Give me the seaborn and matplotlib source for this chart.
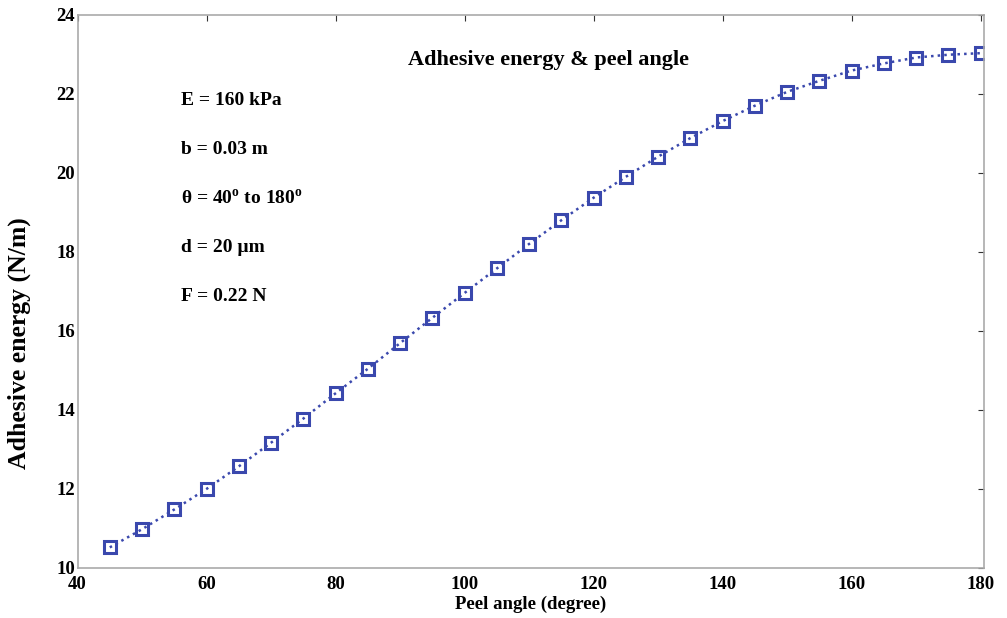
import numpy as np
import pandas as pd
import matplotlib
matplotlib.use("Agg")
import matplotlib.pyplot as plt
import seaborn as sns

# dados
peel_angle = [45, 50, 55, 60, 65, 70, 75, 80, 85, 90, 95, 100, 105, 110,
              115, 120, 125, 130, 135, 140, 145, 150, 155, 160, 165, 170, 175, 180]
adhesive_energy = [10.52, 10.98, 11.48, 12.00, 12.57, 13.17, 13.78, 14.42, 15.04,
                   15.69, 16.33, 16.96, 17.58, 18.20, 18.80, 19.37, 19.90, 20.41,
                   20.88, 21.31, 21.70, 22.05, 22.33, 22.59, 22.77, 22.92, 22.99, 23.03]
param_lines = ["E = 160 kPa", "b = 0.03 m", "θ = 40$^{\\rm o}$ to 180$^{\\rm o}$",
               "d = 20 µm", "F = 0.22 N"]

df = pd.DataFrame({"angle": peel_angle, "energy": adhesive_energy})

sns.set_theme(style="white")
plt.rcParams["font.family"] = ["Liberation Serif", "DejaVu Serif"]
plt.rcParams["mathtext.fontset"] = "custom"
plt.rcParams["mathtext.rm"] = "Liberation Serif:bold"
plt.rcParams["text.color"] = "black"
plt.rcParams["axes.labelcolor"] = "black"
plt.rcParams["xtick.labelcolor"] = "black"
plt.rcParams["ytick.labelcolor"] = "black"

fig, ax = plt.subplots(figsize=(10.07, 6.18), dpi=100)
fig.subplots_adjust(left=0.077, right=0.977, top=0.976, bottom=0.081)

sns.lineplot(data=df, x="angle", y="energy", ax=ax, color="#3a48ad",
             linestyle=":", linewidth=1.8, marker="s", markersize=8.5,
             markerfacecolor="none", markeredgecolor="#3a48ad",
             markeredgewidth=2.2)

ax.set_xlim(40, 180.5)
ax.set_ylim(10, 24)
ax.set_xticks(range(40, 181, 20))
ax.set_yticks(range(10, 25, 2))
ax.tick_params(direction="in", top=True, right=True, length=4, width=0.8,
               color="#333333", labelsize=13.5)
ax.tick_params(axis="x", pad=6)
ax.tick_params(axis="y", pad=2)
for lbl in ax.get_xticklabels() + ax.get_yticklabels():
    lbl.set_fontweight("bold")
for s in ax.spines.values():
    s.set_color("#aaaaaa")
    s.set_linewidth(1.2)

ax.set_xlabel("Peel angle (degree)", fontsize=13.5, fontweight="bold", labelpad=2)
ax.set_ylabel("Adhesive energy (N/m)", fontsize=18.5, fontweight="bold", labelpad=-2)
ax.yaxis.set_label_coords(-0.051, 0.407)

ax.text(0.52, 0.919, "Adhesive energy & peel angle", transform=ax.transAxes,
        ha="center", va="center", fontsize=16, fontweight="bold")
for i, t in enumerate(param_lines):
    ax.text(0.114, 0.846 - i * 0.089, t, transform=ax.transAxes,
            ha="left", va="center", fontsize=14, fontweight="bold")

fig.savefig("out.png", dpi=100)
